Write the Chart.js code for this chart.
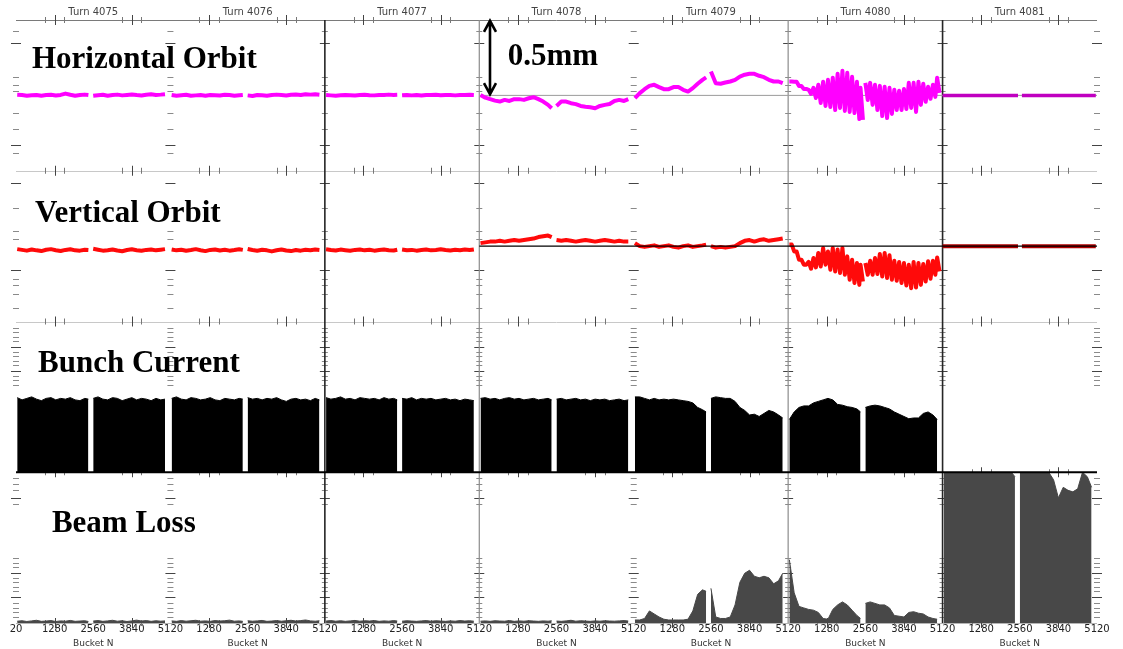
<!DOCTYPE html>
<html>
<head>
<meta charset="utf-8">
<title>Orbit, bunch current and beam loss per turn</title>
<script src="https://cdn.jsdelivr.net/npm/chart.js@4/dist/chart.umd.min.js"></script>
<style>
  html, body { margin: 0; padding: 0; background: #fff; }
  #wrap { width: 1123px; height: 649px; }
</style>
</head>
<body>
<div id="wrap"><canvas id="orbits" width="1123" height="649"></canvas></div>
<script>
const turns = [4075, 4076, 4077, 4078, 4079, 4080, 4081];
const bucketsPerTurn = 5120;
const bucketTicks = [1280, 2560, 3840, 5120];
const rowTitles = ['Horizontal Orbit', 'Vertical Orbit', 'Bunch Current', 'Beam Loss'];

// sample positions inside one turn (bunch train gap after 2400 and after 4940)
const sampleBuckets = [40, 200, 360, 520, 680, 840, 1000, 1160, 1320, 1480, 1640, 1800, 1960, 2120, 2280, 2400,
  2560, 2720, 2880, 3040, 3200, 3360, 3520, 3680, 3840, 4000, 4160, 4320, 4480, 4640, 4800, 4940];
const flatBuckets = [0, 2500, 2630, 5080];

// horizontal orbit (mm)
const hOrbit4075 = [0.004, 0.002, -0.003, 0.001, 0.003, -0.002, 0.002, 0.004, -0.001, 0.003, 0.012, 0.004, -0.002, 0.003, 0.005, 0.002,
  -0.003, 0.001, 0.004, -0.002, 0.002, 0.005, 0.000, 0.003, 0.006, 0.002, -0.001, 0.004, 0.007, 0.003, 0.005, 0.008];
const hOrbit4076 = [0.003, -0.002, 0.001, 0.004, -0.003, 0.000, 0.002, -0.002, 0.003, 0.001, -0.001, 0.004, 0.002, -0.003, 0.001, 0.003,
  0.000, -0.004, 0.002, 0.001, -0.002, 0.003, 0.005, 0.002, -0.001, 0.004, 0.006, 0.003, 0.008, 0.005, 0.007, 0.004];
const hOrbit4077 = [0.002, 0.000, -0.002, 0.001, 0.003, 0.001, -0.001, 0.002, 0.004, 0.001, 0.000, 0.003, 0.002, 0.005, 0.003, 0.004,
  0.001, 0.003, 0.000, 0.002, -0.001, 0.003, 0.002, 0.004, 0.001, 0.003, 0.002, 0.000, 0.003, 0.002, 0.004, 0.003];
const hOrbit4078 = [0.003, -0.015, -0.025, -0.035, -0.041, -0.030, -0.037, -0.025, -0.025, -0.030, -0.019, -0.012, -0.025, -0.041, -0.063, -0.085,
  -0.070, -0.041, -0.041, -0.052, -0.058, -0.070, -0.075, -0.079, -0.085, -0.070, -0.063, -0.057, -0.037, -0.030, -0.037, -0.025];
const hOrbit4079 = [-0.019, 0.015, 0.041, 0.063, 0.070, 0.055, 0.041, 0.041, 0.055, 0.055, 0.037, 0.025, 0.048, 0.077, 0.103, 0.119,
  0.159, 0.081, 0.077, 0.085, 0.092, 0.103, 0.125, 0.137, 0.143, 0.143, 0.130, 0.121, 0.103, 0.092, 0.092, 0.081];
const hOrbit4080Hi = [0.092, 0.090, 0.063, 0.043, 0.037, 0.050, 0.070, 0.090, 0.103, 0.117, 0.143, 0.163, 0.150, 0.123, 0.090, 0.050,
  0.083, 0.083, 0.070, 0.063, 0.057, 0.050, 0.037, 0.030, 0.043, 0.083, 0.083, 0.090, 0.077, 0.057, 0.070, 0.117];
const hOrbit4080Lo = [0.092, 0.090, 0.063, 0.043, 0.010, -0.017, -0.050, -0.070, -0.077, -0.097, -0.083, -0.103, -0.110, -0.117, -0.157, -0.163,
  -0.030, -0.063, -0.097, -0.137, -0.150, -0.123, -0.097, -0.097, -0.090, -0.083, -0.110, -0.063, -0.043, -0.023, -0.010, 0.017];
const hOrbit4081 = [0, 0, 0, 0];

// vertical orbit (mm)
const vOrbit4075 = [-0.020, -0.025, -0.030, -0.022, -0.028, -0.033, -0.024, -0.020, -0.027, -0.032, -0.025, -0.021, -0.028, -0.030, -0.024, -0.026,
  -0.018, -0.024, -0.030, -0.027, -0.022, -0.029, -0.034, -0.026, -0.021, -0.027, -0.031, -0.025, -0.022, -0.028, -0.024, -0.020];
const vOrbit4076 = [-0.022, -0.028, -0.024, -0.031, -0.026, -0.020, -0.027, -0.033, -0.025, -0.022, -0.029, -0.024, -0.030, -0.026, -0.021, -0.025,
  -0.019, -0.026, -0.031, -0.024, -0.028, -0.035, -0.027, -0.022, -0.029, -0.033, -0.026, -0.030, -0.024, -0.027, -0.022, -0.025];
const vOrbit4077 = [-0.021, -0.026, -0.029, -0.023, -0.027, -0.031, -0.025, -0.022, -0.028, -0.024, -0.030, -0.026, -0.023, -0.027, -0.029, -0.024,
  -0.022, -0.027, -0.025, -0.030, -0.026, -0.022, -0.028, -0.025, -0.021, -0.026, -0.029, -0.024, -0.027, -0.023, -0.026, -0.022];
const vOrbit4078 = [0.020, 0.025, 0.030, 0.030, 0.035, 0.030, 0.035, 0.040, 0.035, 0.040, 0.045, 0.050, 0.060, 0.065, 0.070, 0.060,
  0.040, 0.035, 0.040, 0.035, 0.030, 0.035, 0.040, 0.035, 0.030, 0.035, 0.040, 0.035, 0.030, 0.035, 0.030, 0.030];
const vOrbit4079 = [0.020, 0.000, -0.005, 0.000, 0.005, -0.005, 0.000, 0.005, -0.005, -0.010, 0.000, 0.005, -0.005, 0.000, 0.005, 0.010,
  0.000, -0.010, -0.005, -0.010, -0.005, 0.000, 0.020, 0.035, 0.040, 0.030, 0.040, 0.045, 0.035, 0.040, 0.045, 0.050];
const vOrbit4080Hi = [0.010, -0.035, -0.090, -0.123, -0.105, -0.079, -0.045, -0.012, -0.035, -0.012, -0.023, -0.012, -0.068, -0.090, -0.112, -0.123,
  -0.112, -0.097, -0.079, -0.052, -0.045, -0.061, -0.097, -0.105, -0.112, -0.123, -0.105, -0.112, -0.119, -0.101, -0.097, -0.075];
const vOrbit4080Lo = [0.010, -0.035, -0.090, -0.123, -0.150, -0.141, -0.135, -0.123, -0.157, -0.168, -0.179, -0.190, -0.223, -0.245, -0.257, -0.235,
  -0.190, -0.190, -0.185, -0.201, -0.212, -0.223, -0.230, -0.245, -0.261, -0.279, -0.275, -0.257, -0.235, -0.217, -0.190, -0.168];
const vOrbit4081 = [0, 0, 0, 0];

// bunch current (relative)
const bunch4075 = [0.495, 0.48, 0.49, 0.50, 0.485, 0.475, 0.49, 0.495, 0.48, 0.49, 0.485, 0.495, 0.48, 0.475, 0.49, 0.485,
  0.49, 0.50, 0.485, 0.48, 0.495, 0.49, 0.475, 0.485, 0.495, 0.48, 0.49, 0.485, 0.475, 0.49, 0.48, 0.485];
const bunch4076 = [0.49, 0.50, 0.485, 0.48, 0.495, 0.49, 0.48, 0.485, 0.495, 0.48, 0.475, 0.49, 0.485, 0.48, 0.49, 0.485,
  0.495, 0.485, 0.49, 0.48, 0.49, 0.485, 0.495, 0.48, 0.47, 0.485, 0.49, 0.48, 0.485, 0.475, 0.49, 0.48];
const bunch4077 = [0.495, 0.485, 0.49, 0.50, 0.485, 0.49, 0.48, 0.495, 0.49, 0.485, 0.49, 0.48, 0.495, 0.485, 0.49, 0.48,
  0.49, 0.485, 0.495, 0.48, 0.49, 0.485, 0.49, 0.48, 0.485, 0.49, 0.48, 0.485, 0.475, 0.485, 0.48, 0.475];
const bunch4078 = [0.49, 0.495, 0.485, 0.49, 0.48, 0.49, 0.495, 0.485, 0.49, 0.48, 0.485, 0.49, 0.48, 0.485, 0.49, 0.48,
  0.485, 0.49, 0.48, 0.485, 0.49, 0.48, 0.485, 0.475, 0.485, 0.48, 0.485, 0.475, 0.48, 0.485, 0.475, 0.48];
const bunch4079 = [0.50, 0.50, 0.49, 0.48, 0.49, 0.48, 0.485, 0.48, 0.485, 0.48, 0.475, 0.47, 0.46, 0.43, 0.415, 0.40,
  0.49, 0.50, 0.495, 0.49, 0.49, 0.47, 0.43, 0.41, 0.38, 0.385, 0.37, 0.39, 0.41, 0.40, 0.38, 0.36];
const bunch4080 = [0.35, 0.40, 0.43, 0.44, 0.44, 0.46, 0.47, 0.48, 0.49, 0.48, 0.45, 0.445, 0.435, 0.43, 0.42, 0.40,
  0.43, 0.44, 0.445, 0.44, 0.43, 0.42, 0.40, 0.385, 0.37, 0.355, 0.36, 0.36, 0.39, 0.40, 0.38, 0.35];

// beam loss (relative)
const loss4075 = [0.012, 0.015, 0.010, 0.014, 0.018, 0.011, 0.013, 0.016, 0.010, 0.014, 0.012, 0.017, 0.011, 0.013, 0.015, 0.010,
  0.013, 0.016, 0.011, 0.014, 0.018, 0.012, 0.015, 0.010, 0.014, 0.019, 0.013, 0.016, 0.011, 0.015, 0.012, 0.014];
const loss4076 = [0.014, 0.011, 0.016, 0.012, 0.015, 0.018, 0.012, 0.014, 0.011, 0.016, 0.013, 0.015, 0.019, 0.012, 0.014, 0.011,
  0.015, 0.012, 0.014, 0.017, 0.011, 0.013, 0.016, 0.012, 0.015, 0.018, 0.013, 0.016, 0.020, 0.014, 0.012, 0.015];
const loss4077 = [0.013, 0.016, 0.012, 0.015, 0.011, 0.014, 0.017, 0.012, 0.015, 0.013, 0.016, 0.011, 0.014, 0.012, 0.016, 0.013,
  0.012, 0.015, 0.013, 0.011, 0.014, 0.016, 0.012, 0.015, 0.013, 0.011, 0.014, 0.012, 0.016, 0.013, 0.015, 0.012];
const loss4078 = [0.012, 0.014, 0.011, 0.015, 0.013, 0.012, 0.016, 0.011, 0.014, 0.012, 0.015, 0.013, 0.011, 0.014, 0.012, 0.015,
  0.013, 0.011, 0.014, 0.018, 0.012, 0.015, 0.013, 0.011, 0.014, 0.012, 0.015, 0.013, 0.012, 0.014, 0.016, 0.013];
const loss4079 = [0.02, 0.02, 0.03, 0.08, 0.06, 0.04, 0.025, 0.02, 0.02, 0.02, 0.02, 0.025, 0.08, 0.19, 0.22, 0.21,
  0.23, 0.04, 0.03, 0.03, 0.04, 0.12, 0.27, 0.33, 0.35, 0.31, 0.30, 0.31, 0.30, 0.26, 0.28, 0.33];
const loss4080 = [0.42, 0.20, 0.11, 0.10, 0.09, 0.085, 0.07, 0.03, 0.025, 0.09, 0.12, 0.14, 0.12, 0.085, 0.05, 0.03,
  0.13, 0.14, 0.13, 0.12, 0.12, 0.10, 0.05, 0.045, 0.04, 0.07, 0.075, 0.065, 0.06, 0.04, 0.03, 0.025];
const loss4081 = [1, 1, 1, 1, 1, 1, 1, 1, 1, 1, 1, 1, 1, 1, 1, 0.97,
  1, 1, 1, 1, 1, 1, 1, 0.95, 0.83, 0.90, 0.88, 0.87, 0.89, 1, 0.97, 0.90];

// decoration ticks (axis units) drawn on every panel edge
const rowDashes = {
  yH: { major: [0.35, -0.33], minor: [0.43, 0.12, 0.07, 0.03, -0.12, -0.22, -0.38] },
  yV: { major: [0.42, -0.16], minor: [0.25, 0.10, 0.05, -0.22, -0.26, -0.32, -0.41] },
  yB: { major: [0.83, 0.67], minor: [0.96, 0.93, 0.90, 0.87, 0.80, 0.77, 0.74, 0.71, 0.64, 0.61, 0.58] },
  yL: { major: [0.83, 0.33, 0.17], minor: [0.96, 0.92, 0.88, 0.79, 0.43, 0.40, 0.37, 0.30, 0.27, 0.24, 0.21, 0.13, 0.10, 0.07, 0.04] }
};
const edgeTickBuckets = { major: [1280, 3840], minor: [960, 1600, 3520, 4160] };

function turnPoints(turnIdx, buckets, values, gapAfter) {
  const base = turnIdx * bucketsPerTurn;
  const pts = [];
  buckets.forEach((b, i) => {
    pts.push({ x: base + b, y: values[i] });
    if (i === gapAfter) pts.push({ x: base + b + 90, y: null });
  });
  pts.push({ x: base + buckets[buckets.length - 1] + 90, y: null });
  return pts;
}

// noisy orbit: alternate upper / lower envelope every half sample
function zigzagPoints(turnIdx, hi, lo) {
  const base = turnIdx * bucketsPerTurn;
  const pts = [];
  sampleBuckets.forEach((b, i) => {
    pts.push({ x: base + b, y: hi[i] });
    pts.push({ x: base + b + 80, y: lo[i] });
    if (i === 15) pts.push({ x: base + b + 100, y: null });
  });
  pts.push({ x: base + 5060, y: null });
  return pts;
}

const series = (list) => list.flatMap(([k, v]) => turnPoints(k, sampleBuckets, v, 15));

const hTrace = series([[0, hOrbit4075], [1, hOrbit4076], [2, hOrbit4077], [3, hOrbit4078], [4, hOrbit4079]])
  .concat(zigzagPoints(5, hOrbit4080Hi, hOrbit4080Lo));
const vTrace = series([[0, vOrbit4075], [1, vOrbit4076], [2, vOrbit4077], [3, vOrbit4078], [4, vOrbit4079]])
  .concat(zigzagPoints(5, vOrbit4080Hi, vOrbit4080Lo));
const bunchFill = series([[0, bunch4075], [1, bunch4076], [2, bunch4077], [3, bunch4078], [4, bunch4079], [5, bunch4080]]);
const lossFill = series([[0, loss4075], [1, loss4076], [2, loss4077], [3, loss4078], [4, loss4079], [5, loss4080], [6, loss4081]]);

const lineBase = {
  type: 'line', xAxisID: 'x', pointRadius: 0, tension: 0, spanGaps: false, fill: false,
  borderJoinStyle: 'round', borderCapStyle: 'butt'
};

const panelFrame = {
  id: 'panelFrame',
  beforeDatasetsDraw(chart) {
    const { ctx, scales } = chart;
    const x = scales.x;
    const rows = ['yH', 'yV', 'yB', 'yL'].map((id) => scales[id]);
    const seg = (x0, y0, x1, y1) => { ctx.beginPath(); ctx.moveTo(x0, y0); ctx.lineTo(x1, y1); ctx.stroke(); };
    ctx.save();
    ctx.lineWidth = 1;
    [[rows[0].top, '#7a7a7a'], [rows[0].bottom, '#c8c8c8'], [rows[1].bottom, '#c8c8c8'], [rows[3].bottom, '#b5b5b5']]
      .forEach(([y, c]) => { ctx.strokeStyle = c; seg(x.left, Math.round(y) + 0.5, x.right, Math.round(y) + 0.5); });

    const edgeYs = [rows[0].top, rows[0].bottom, rows[1].bottom, rows[2].bottom, rows[3].bottom];
    edgeYs.forEach((ey) => turns.forEach((t, k) => {
      ctx.strokeStyle = '#444';
      edgeTickBuckets.major.forEach((b) => { const px = Math.round(x.getPixelForValue(k * bucketsPerTurn + b)) + 0.5; seg(px, ey - 5, px, ey + 5); });
      ctx.strokeStyle = '#777';
      edgeTickBuckets.minor.forEach((b) => { const px = Math.round(x.getPixelForValue(k * bucketsPerTurn + b)) + 0.5; seg(px, ey - 3, px, ey + 3); });
    }));

    for (let k = 0; k <= turns.length; k++) {
      const px = x.getPixelForValue(k * bucketsPerTurn);
      Object.entries(rowDashes).forEach(([id, d]) => {
        const s = scales[id];
        ctx.strokeStyle = '#444';
        d.major.forEach((v) => { const py = Math.round(s.getPixelForValue(v)) + 0.5; seg(px - 5, py, px + 5, py); });
        ctx.strokeStyle = '#8a8a8a';
        d.minor.forEach((v) => { const py = Math.round(s.getPixelForValue(v)) + 0.5; seg(px - 3, py, px + 3, py); });
      });
    }

    [[2, '#262626', 1.6], [3, '#8c8c8c', 1.2], [5, '#8c8c8c', 1.2], [6, '#262626', 1.6]].forEach(([k, c, w]) => {
      const px = x.getPixelForValue(k * bucketsPerTurn);
      ctx.strokeStyle = c; ctx.lineWidth = w;
      seg(px, rows[0].top, px, rows[3].bottom);
    });
    ctx.restore();
  },
  afterDatasetsDraw(chart) {
    const { ctx, scales } = chart;
    const x = scales.x;
    ctx.save();
    // bunch current baseline
    ctx.strokeStyle = '#000';
    ctx.lineWidth = 2;
    ctx.beginPath();
    ctx.moveTo(x.left, scales.yB.bottom);
    ctx.lineTo(x.right, scales.yB.bottom);
    ctx.stroke();

    // row titles
    ctx.fillStyle = '#000';
    ctx.font = 'bold 31px "Liberation Serif", "DejaVu Serif", serif';
    ctx.textBaseline = 'alphabetic';
    const titleAt = [['yH', 530, 0.183], ['yV', 630, 0.163], ['yB', 730, 0.667], ['yL', 1190, 0.603]];
    titleAt.forEach(([id, b, v], i) => ctx.fillText(rowTitles[i], x.getPixelForValue(b), scales[id].getPixelForValue(v)));
    ctx.fillText('0.5mm', x.getPixelForValue(16300), scales.yH.getPixelForValue(0.203));

    // 0.5 mm scale arrow
    const ax = x.getPixelForValue(15715);
    const y0 = scales.yH.getPixelForValue(0.495);
    const y1 = scales.yH.getPixelForValue(0.008);
    ctx.lineWidth = 2.6;
    ctx.lineJoin = 'miter';
    ctx.beginPath();
    ctx.moveTo(ax, y0); ctx.lineTo(ax, y1);
    ctx.moveTo(ax - 6, y0 + 11); ctx.lineTo(ax, y0); ctx.lineTo(ax + 6, y0 + 11);
    ctx.moveTo(ax - 6, y1 - 11); ctx.lineTo(ax, y1); ctx.lineTo(ax + 6, y1 - 11);
    ctx.stroke();

    // axis title under every turn
    ctx.font = '9px "DejaVu Sans", sans-serif';
    ctx.fillStyle = '#333';
    ctx.textAlign = 'center';
    ctx.textBaseline = 'middle';
    turns.forEach((t, k) => ctx.fillText('Bucket N', x.getPixelForValue(k * bucketsPerTurn + 2560), x.bottom + 9));
    ctx.restore();
  }
};

const hiddenY = (id, min, max, weight) => ({
  type: 'linear', min, max, position: 'left', stack: 'rows', stackWeight: 1, weight,
  ticks: { display: false }, grid: { display: false, drawTicks: false }, border: { display: false }
});

Chart.defaults.font.family = '"DejaVu Sans", sans-serif';

new Chart(document.getElementById('orbits'), {
  data: {
    datasets: [
      { ...lineBase, data: [{ x: 15360, y: 0 }, { x: 35840, y: 0 }], yAxisID: 'yV', borderColor: '#000', borderWidth: 1.4 },
      { ...lineBase, data: turnPoints(6, flatBuckets, vOrbit4081, 1), yAxisID: 'yV', borderColor: '#b00000', borderWidth: 4 },
      { ...lineBase, data: vTrace, yAxisID: 'yV', borderColor: '#ff0a0a', borderWidth: 4 },
      { ...lineBase, data: turnPoints(6, flatBuckets, hOrbit4081, 1), yAxisID: 'yH', borderColor: '#c000c0', borderWidth: 3.5 },
      { ...lineBase, data: hTrace, yAxisID: 'yH', borderColor: '#ff00ff', borderWidth: 4 },
      { ...lineBase, data: [{ x: 15360, y: 0 }, { x: 35840, y: 0 }], yAxisID: 'yH', borderColor: '#9a9a9a', borderWidth: 1 },
      { ...lineBase, data: bunchFill, yAxisID: 'yB', borderColor: '#000', backgroundColor: '#000', borderWidth: 1, fill: 'origin' },
      { ...lineBase, data: lossFill, yAxisID: 'yL', borderColor: '#484848', backgroundColor: '#484848', borderWidth: 1, fill: 'origin' }
    ]
  },
  options: {
    responsive: false,
    animation: false,
    devicePixelRatio: 1,
    layout: { autoPadding: false, padding: { left: 16, right: 26, top: 4, bottom: 14 } },
    plugins: { legend: { display: false }, tooltip: { enabled: false } },
    scales: {
      x: {
        type: 'linear', position: 'bottom', min: 0, max: turns.length * bucketsPerTurn,
        grid: { display: false, drawTicks: false }, border: { display: false },
        afterBuildTicks: (axis) => {
          const ticks = [{ value: 0 }];
          turns.forEach((t, k) => bucketTicks.forEach((b) => ticks.push({ value: k * bucketsPerTurn + b })));
          axis.ticks = ticks;
        },
        ticks: {
          autoSkip: false, maxRotation: 0, minRotation: 0, padding: 0, color: '#222', font: { size: 10 },
          callback: (v) => (v === 0 ? '20' : String(v % bucketsPerTurn === 0 ? bucketsPerTurn : v % bucketsPerTurn))
        }
      },
      xt: {
        type: 'linear', position: 'top', min: 0, max: turns.length * bucketsPerTurn,
        grid: { display: false, drawTicks: false }, border: { display: false },
        afterBuildTicks: (axis) => { axis.ticks = turns.map((t, k) => ({ value: k * bucketsPerTurn + 2560 })); },
        ticks: {
          autoSkip: false, maxRotation: 0, minRotation: 0, padding: 2, color: '#444', font: { size: 10 },
          callback: (v, i) => 'Turn ' + turns[i]
        }
      },
      yH: hiddenY('yH', -0.5, 0.5, 4),
      yV: hiddenY('yV', -0.5, 0.5, 3),
      yB: hiddenY('yB', 0, 1, 2),
      yL: hiddenY('yL', 0, 1, 1)
    }
  },
  plugins: [panelFrame]
});
</script>
</body>
</html>
